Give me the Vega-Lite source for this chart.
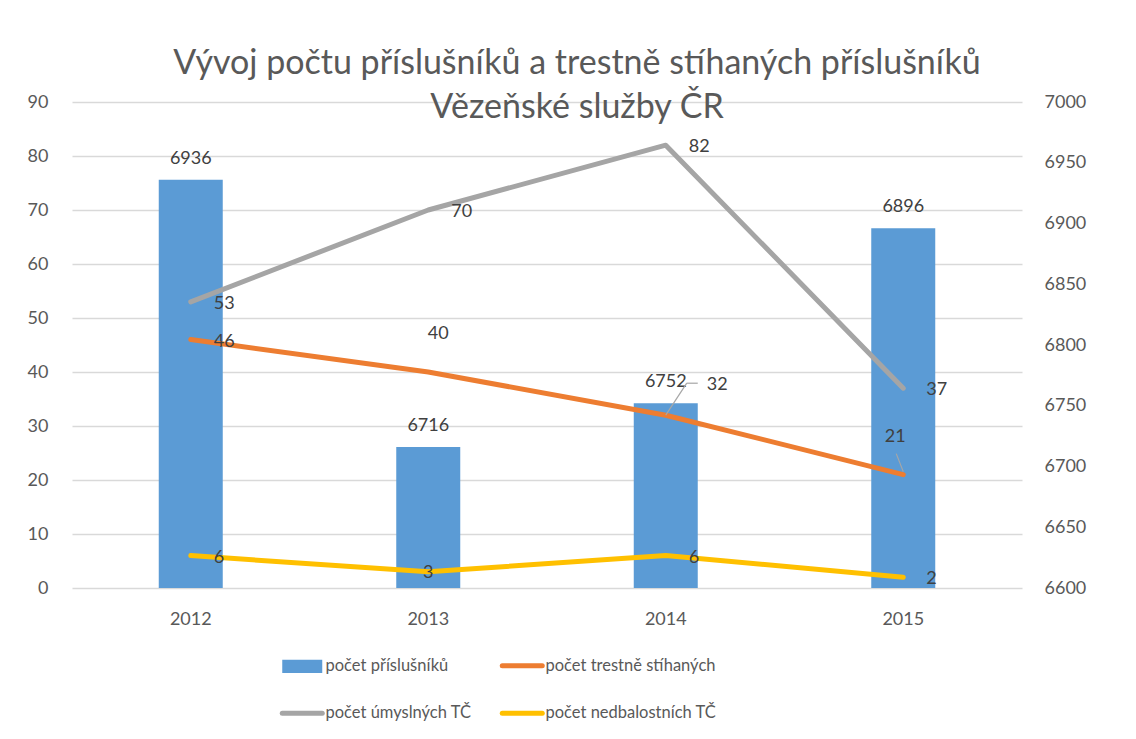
{
  "$schema": "https://vega.github.io/schema/vega-lite/v6.json",
  "autosize": "none",
  "width": 950,
  "height": 486,
  "padding": {"left": 72, "top": 102, "right": 114, "bottom": 151},
  "background": "white",
  "config": {"view": {"stroke": null}, "font": "Lato"},
  "title": {
    "text": ["Vývoj počtu příslušníků a trestně stíhaných příslušníků", "Vězeňské služby ČR"],
    "font": "Lato", "fontSize": 34, "fontWeight": "normal", "color": "#595959",
    "anchor": "middle", "dx": 30, "offset": 0, "dy": 32, "lineHeight": 44
  },
  "data": {
    "values": [
      {"year": 2012, "series": "počet příslušníků", "value": 6936},
      {"year": 2013, "series": "počet příslušníků", "value": 6716},
      {"year": 2014, "series": "počet příslušníků", "value": 6752},
      {"year": 2015, "series": "počet příslušníků", "value": 6896},
      {"year": 2012, "series": "počet trestně stíhaných", "value": 46},
      {"year": 2013, "series": "počet trestně stíhaných", "value": 40},
      {"year": 2014, "series": "počet trestně stíhaných", "value": 32},
      {"year": 2015, "series": "počet trestně stíhaných", "value": 21},
      {"year": 2012, "series": "počet úmyslných TČ", "value": 53},
      {"year": 2013, "series": "počet úmyslných TČ", "value": 70},
      {"year": 2014, "series": "počet úmyslných TČ", "value": 82},
      {"year": 2015, "series": "počet úmyslných TČ", "value": 37},
      {"year": 2012, "series": "počet nedbalostních TČ", "value": 6},
      {"year": 2013, "series": "počet nedbalostních TČ", "value": 3},
      {"year": 2014, "series": "počet nedbalostních TČ", "value": 6},
      {"year": 2015, "series": "počet nedbalostních TČ", "value": 2}
    ]
  },
  "encoding": {
    "x": {
      "field": "year", "type": "ordinal", "title": null,
      "scale": {"paddingInner": 0, "paddingOuter": 0},
      "axis": {"labelAngle": 0, "labelFont": "Lato", "labelFontSize": 18, "labelColor": "#595959", "ticks": false, "domain": false, "labelPadding": 22, "grid": false}
    }
  },
  "layer": [
    {
      "transform": [{"filter": "datum.series === 'počet příslušníků'"}],
      "encoding": {
        "y": {
          "field": "value", "type": "quantitative", "title": null,
          "scale": {"domain": [6600, 7000], "nice": false, "zero": false},
          "axis": {"orient": "right", "values": [6600, 6650, 6700, 6750, 6800, 6850, 6900, 6950, 7000], "format": "d", "grid": false, "ticks": false, "domain": false, "labelFont": "Lato", "labelFontSize": 18, "labelColor": "#595959", "labelPadding": 22}
        }
      },
      "layer": [
        {"mark": {"type": "bar", "size": 64, "color": "#5B9BD5", "clip": true}},
        {"mark": {"type": "text", "dy": -16, "baseline": "alphabetic", "align": "center", "font": "Lato", "fontSize": 18, "color": "#404040"}, "encoding": {"text": {"field": "value"}}}
      ]
    },
    {
      "transform": [{"filter": "datum.series !== 'počet příslušníků'"}],
      "encoding": {
        "y": {
          "field": "value", "type": "quantitative", "title": null,
          "scale": {"domain": [0, 90], "nice": false},
          "axis": {"orient": "left", "values": [0, 10, 20, 30, 40, 50, 60, 70, 80, 90], "grid": true, "gridColor": "#d9d9d9", "gridWidth": 1.5, "ticks": false, "domain": false, "labelFont": "Lato", "labelFontSize": 18, "labelColor": "#595959", "labelPadding": 24}
        }
      },
      "layer": [
        {
          "mark": {"type": "line", "strokeWidth": 5, "strokeCap": "round", "strokeJoin": "round"},
          "encoding": {
            "color": {
              "field": "series", "type": "nominal",
              "scale": {"domain": ["počet příslušníků", "počet trestně stíhaných", "počet úmyslných TČ", "počet nedbalostních TČ"], "range": ["#5B9BD5", "#ED7D31", "#A5A5A5", "#FFC000"]},
              "legend": {
                "orient": "none", "legendX": 222, "legendY": 555, "columns": 2, "direction": "horizontal", "title": null,
                "symbolType": "stroke", "symbolSize": 1600, "symbolStrokeWidth": 5,
                "labelFont": "Lato", "labelFontSize": 16.5, "labelColor": "#595959", "labelOffset": 15, "labelLimit": 400,
                "columnPadding": 20, "rowPadding": 27,
                "encode": {
                  "symbols": {
                    "update": {
                      "shape": {"signal": "datum.value === 'počet příslušníků' ? 'M-1,-0.33H1V0.33H-1Z' : 'stroke'"},
                      "fill": {"signal": "datum.value === 'počet příslušníků' ? '#5B9BD5' : 'transparent'"},
                      "strokeWidth": {"signal": "datum.value === 'počet příslušníků' ? 0 : 5"},
                      "strokeCap": {"value": "round"}
                    }
                  }
                }
              }
            }
          }
        },
        {
          "transform": [{"filter": "datum.series === 'počet trestně stíhaných' && datum.year === 2014"}],
          "mark": {"type": "rule", "color": "#a6a6a6", "strokeWidth": 1.2, "x2Offset": 21, "y2Offset": -32},
          "encoding": {"x2": {"field": "year"}, "y2": {"field": "value"}}
        },
        {
          "transform": [{"filter": "datum.series === 'počet trestně stíhaných' && datum.year === 2014"}],
          "mark": {"type": "rule", "color": "#a6a6a6", "strokeWidth": 1.2, "xOffset": 21, "yOffset": -32, "x2Offset": 32, "y2Offset": -32},
          "encoding": {"x2": {"field": "year"}, "y2": {"field": "value"}}
        },
        {
          "transform": [{"filter": "datum.series === 'počet trestně stíhaných' && datum.year === 2015"}],
          "mark": {"type": "rule", "color": "#a6a6a6", "strokeWidth": 1.2, "yOffset": -3, "x2Offset": -7, "y2Offset": -21},
          "encoding": {"x2": {"field": "year"}, "y2": {"field": "value"}}
        },
        {
          "transform": [{"filter": "!((datum.series === 'počet trestně stíhaných' && datum.year >= 2013) || (datum.series === 'počet nedbalostních TČ' && datum.year === 2013))"}],
          "mark": {"type": "text", "align": "left", "baseline": "middle", "dx": 23, "dy": 2, "font": "Lato", "fontSize": 18, "color": "#404040"},
          "encoding": {"text": {"field": "value"}}
        },
        {
          "transform": [{"filter": "datum.series === 'počet nedbalostních TČ' && datum.year === 2013"}],
          "mark": {"type": "text", "align": "center", "baseline": "middle", "dx": 0, "dy": 1, "font": "Lato", "fontSize": 18, "color": "#404040"},
          "encoding": {"text": {"field": "value"}}
        },
        {
          "transform": [{"filter": "datum.series === 'počet trestně stíhaných' && datum.year === 2013"}],
          "mark": {"type": "text", "align": "center", "baseline": "middle", "dx": 10, "dy": -38, "font": "Lato", "fontSize": 18, "color": "#404040"},
          "encoding": {"text": {"field": "value"}}
        },
        {
          "transform": [{"filter": "datum.series === 'počet trestně stíhaných' && datum.year === 2014"}],
          "mark": {"type": "text", "align": "left", "baseline": "middle", "dx": 41, "dy": -30, "font": "Lato", "fontSize": 18, "color": "#404040"},
          "encoding": {"text": {"field": "value"}}
        },
        {
          "transform": [{"filter": "datum.series === 'počet trestně stíhaných' && datum.year === 2015"}],
          "mark": {"type": "text", "align": "center", "baseline": "middle", "dx": -8, "dy": -38, "font": "Lato", "fontSize": 18, "color": "#404040"},
          "encoding": {"text": {"field": "value"}}
        }
      ]
    }
  ],
  "resolve": {"scale": {"y": "independent"}}
}
